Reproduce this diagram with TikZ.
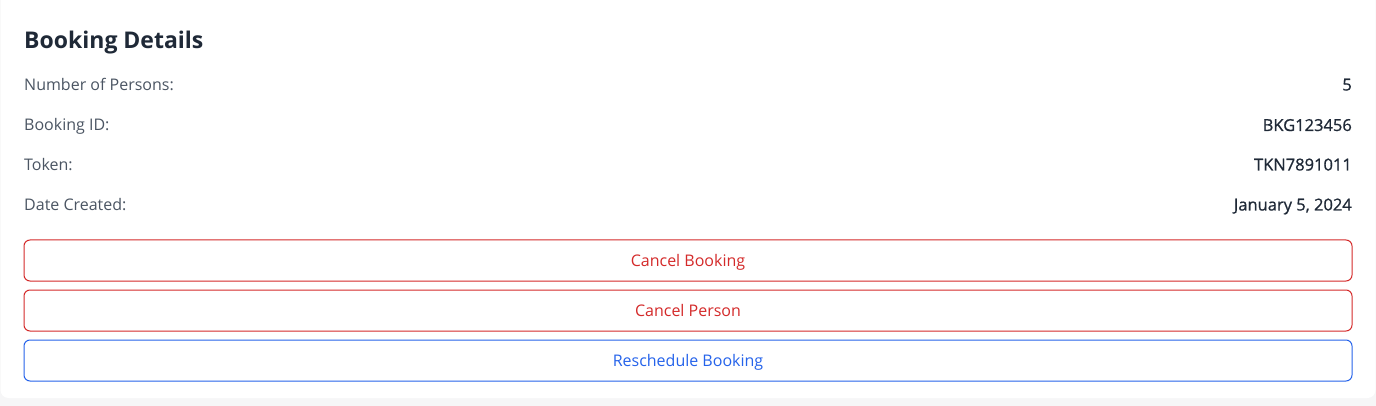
\documentclass[tikz,border=0pt]{standalone}
\usepackage{fontspec}
\setmainfont{Open Sans}
\newfontfamily\valfont{Open Sans}[FakeBold=0.8]
\definecolor{titlec}{HTML}{1F2937}
\definecolor{labelc}{HTML}{4B5563}
\definecolor{valc}{HTML}{1F2937}
\definecolor{redc}{HTML}{D42A2A}
\definecolor{bluec}{HTML}{2563EB}
\definecolor{bgc}{HTML}{F6F6F7}
\begin{document}
\begin{tikzpicture}[x=1pt,y=-1pt,
  title/.style={anchor=base west,inner sep=0pt,text=titlec,font=\fontsize{23}{27}\selectfont\bfseries},
  lbl/.style={anchor=base west,inner sep=0pt,text=labelc,font=\fontsize{16}{19}\selectfont},
  val/.style={anchor=base east,inner sep=0pt,text=valc,font=\valfont\fontsize{16.5}{19}\selectfont},
  btn/.style={draw=#1,line width=1pt,rounded corners=6pt,minimum width=1328pt,minimum height=41pt,inner sep=0pt,text height=11pt,text depth=0pt,text=#1,font=\fontsize{16}{19}\selectfont}]
\useasboundingbox (0,0) rectangle (1376,406);
\fill[bgc] (0,0) rectangle (1376,406);
\fill[white,rounded corners=8pt] (0.5,-10) rectangle (1375.5,398);
\node[title] (t) at (24,49) {Booking Details};
\node[lbl] (l1) at (24,90.5) {Number of Persons:};
\node[lbl] (l2) at (24,131) {Booking ID:};
\node[lbl] (l3) at (24,170.5) {Token:};
\node[lbl] (l4) at (24,210.5) {Date Created:};
\node[val] (v1) at (1352,90.5) {5};
\node[val] (v2) at (1352,131) {BKG123456};
\node[val] (v3) at (1352,170.5) {TKN7891011};
\node[val] (v4) at (1352,210.5) {January 5, 2024};
\node[btn=redc] (b1) at (688,260.5) {Cancel Booking};
\node[btn=redc] (b2) at (688,310.5) {Cancel Person};
\node[btn=bluec] (b3) at (688,360.5) {Reschedule Booking};
\end{tikzpicture}
\end{document}
